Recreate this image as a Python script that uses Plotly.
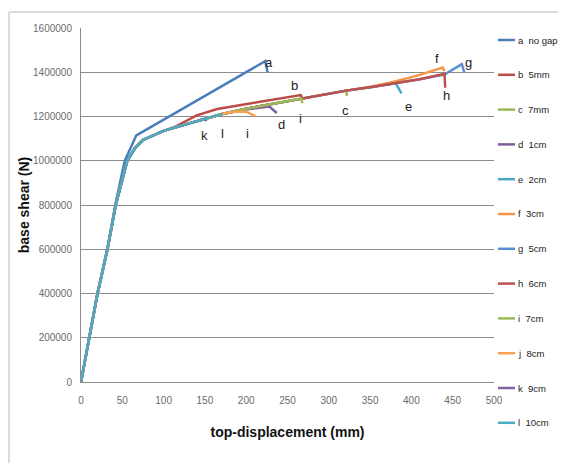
import plotly.graph_objects as go

# ---- data ----
series_names = ["a&nbsp; no gap", "b&nbsp; 5mm", "c&nbsp; 7mm", "d&nbsp; 1cm", "e&nbsp; 2cm", "f&nbsp; 3cm",
                "g&nbsp; 5cm", "h&nbsp; 6cm", "i&nbsp; 7cm", "j&nbsp; 8cm", "k&nbsp; 9cm", "l&nbsp; 10cm"]
series_colors = ["#4A7EBB", "#BE4B48", "#98B954", "#7D60A0", "#46AAC5", "#F79646",
                 "#5B8ED0", "#C0504D", "#9BBB59", "#F7A050", "#8064A2", "#4BACC6"]

a_x = [0, 10, 20, 32, 42, 53, 67, 223, 226]
a_y = [0, 200000, 400000, 600000, 810000, 1000000, 1115000, 1450000, 1400000]

b_x = [0, 10, 20, 32, 42, 56, 65, 75, 100, 115, 140, 165, 266, 268]
b_y = [0, 200000, 400000, 600000, 800000, 1000000, 1055000, 1094000, 1135000, 1155000, 1205000, 1234000, 1297000, 1283000]

c_x = [0, 10, 20, 32, 42, 56, 65, 75, 100, 130, 171, 200, 244, 267, 321, 322]
c_y = [0, 200000, 400000, 600000, 800000, 1000000, 1055000, 1094000, 1135000, 1168000, 1211000, 1235000, 1266000, 1281000, 1317000, 1293000]

d_x = [0, 10, 20, 32, 42, 56, 65, 75, 100, 130, 171, 200, 228, 237]
d_y = [0, 200000, 400000, 600000, 800000, 1000000, 1055000, 1094000, 1135000, 1168000, 1211000, 1232000, 1245000, 1216000]

e_x = [0, 10, 20, 32, 42, 56, 65, 75, 100, 130, 171, 200, 244, 267, 321, 350, 381, 388]
e_y = [0, 200000, 400000, 600000, 800000, 1000000, 1055000, 1094000, 1135000, 1168000, 1211000, 1235000, 1266000, 1281000, 1317000, 1332000, 1350000, 1305000]

f_x = [0, 10, 20, 32, 42, 56, 65, 75, 100, 130, 171, 200, 244, 267, 321, 350, 380, 410, 438, 440]
f_y = [0, 200000, 400000, 600000, 800000, 1000000, 1055000, 1094000, 1135000, 1168000, 1211000, 1235000, 1266000, 1281000, 1317000, 1334000, 1358000, 1388000, 1421000, 1405000]

g_x = [0, 10, 20, 32, 42, 56, 65, 75, 100, 130, 171, 200, 244, 267, 321, 350, 381, 410, 440, 461, 464]
g_y = [0, 200000, 400000, 600000, 800000, 1000000, 1055000, 1094000, 1135000, 1168000, 1211000, 1235000, 1266000, 1281000, 1317000, 1332000, 1350000, 1368000, 1390000, 1437000, 1401000]

h_x = [0, 10, 20, 32, 42, 56, 65, 75, 100, 130, 171, 200, 244, 267, 321, 350, 381, 410, 440, 441]
h_y = [0, 200000, 400000, 600000, 800000, 1000000, 1055000, 1094000, 1135000, 1168000, 1211000, 1235000, 1266000, 1281000, 1317000, 1332000, 1350000, 1368000, 1393000, 1330000]

i_x = [0, 10, 20, 32, 42, 56, 65, 75, 100, 130, 171, 200, 244, 267, 268]
i_y = [0, 200000, 400000, 600000, 800000, 1000000, 1055000, 1094000, 1135000, 1168000, 1211000, 1235000, 1266000, 1281000, 1260000]

j_x = [0, 10, 20, 32, 42, 56, 65, 75, 100, 130, 171, 185, 200, 211]
j_y = [0, 200000, 400000, 600000, 800000, 1000000, 1055000, 1094000, 1135000, 1168000, 1211000, 1222000, 1222000, 1202000]

k_x = [0, 10, 20, 32, 42, 56, 65, 75, 100, 130, 150, 152]
k_y = [0, 200000, 400000, 600000, 800000, 1000000, 1055000, 1094000, 1135000, 1168000, 1190000, 1180000]

l_x = [0, 10, 20, 32, 42, 56, 65, 75, 100, 130, 171]
l_y = [0, 200000, 400000, 600000, 800000, 1000000, 1055000, 1094000, 1135000, 1168000, 1211000]

series_x = [a_x, b_x, c_x, d_x, e_x, f_x, g_x, h_x, i_x, j_x, k_x, l_x]
series_y = [a_y, b_y, c_y, d_y, e_y, f_y, g_y, h_y, i_y, j_y, k_y, l_y]

# curve end labels (text, x, y)
label_text = ["a", "b", "c", "d", "e", "f", "g", "h", "i", "i", "k", "l"]
label_x = [228, 259, 320, 243, 396, 431, 469, 443, 266, 202, 150, 171]
label_y = [1446000, 1338000, 1229000, 1162000, 1243000, 1460000, 1442000, 1297000, 1193000, 1125000, 1116000, 1125000]

y_ticks = [0, 200000, 400000, 600000, 800000, 1000000, 1200000, 1400000, 1600000]
x_ticks = [0, 50, 100, 150, 200, 250, 300, 350, 400, 450, 500]

x_title = "top-displacement (mm)"
y_title = "base shear (N)"

# ---- figure (page has an 8px body offset) ----
OFF = 8
W, H = 566 - OFF, 463 - OFF
ML, MR, MT, MB = 81 - OFF, W - (494 - OFF), 28 - OFF, H - (382 - OFF)
PW, PH = W - ML - MR, H - MT - MB


def px_x(p):
    return (p - OFF - ML) / PW


def px_y(p):
    return (H - MB - (p - OFF)) / PH


LABEL_FONT = "Liberation Sans"

fig = go.Figure()
for name, col, xs, ys in zip(series_names, series_colors, series_x, series_y):
    fig.add_trace(go.Scatter(x=xs, y=ys, mode="lines", name=name,
                             line=dict(color=col, width=2.5),
                             showlegend=False))

for t, lx, ly in zip(label_text, label_x, label_y):
    fig.add_annotation(x=lx, y=ly, text=t, showarrow=False,
                       font=dict(family=LABEL_FONT, size=13, color="#222222"))

# manual legend (Excel style)
shapes = []
for idx, (name, col) in enumerate(zip(series_names, series_colors)):
    py = 40 + idx * 34.8
    shapes.append(dict(type="line", xref="paper", yref="paper",
                       x0=px_x(498), x1=px_x(515), y0=px_y(py), y1=px_y(py),
                       line=dict(color=col, width=2.5)))
    fig.add_annotation(xref="paper", yref="paper", x=px_x(516), y=px_y(py),
                       xanchor="left", yanchor="middle", text=name, showarrow=False,
                       font=dict(family=LABEL_FONT, size=9.5, color="#222222"))

# outer chart frame (top and left edges visible)
shapes.append(dict(type="line", xref="paper", yref="paper",
                   x0=px_x(9), x1=px_x(566), y0=px_y(12), y1=px_y(12),
                   line=dict(color="#cfcfcf", width=1.5)))
shapes.append(dict(type="line", xref="paper", yref="paper",
                   x0=px_x(9), x1=px_x(9), y0=px_y(12), y1=px_y(463),
                   line=dict(color="#cfcfcf", width=1.5)))

fig.update_layout(
    width=W, height=H,
    margin=dict(l=ML, r=MR, t=MT, b=MB, autoexpand=False),
    paper_bgcolor="white", plot_bgcolor="white",
    shapes=shapes,
    showlegend=False,
    xaxis=dict(range=[0, 500], tickvals=x_ticks, showgrid=False,
               showline=True, linecolor="#8c8c8c", linewidth=1,
               ticks="", zeroline=False, ticklabelstandoff=9,
               tickfont=dict(family="Liberation Sans", size=10, color="#6b6b6b"),
               title=dict(text="<b>" + x_title + "</b>", standoff=22,
                          font=dict(family="Liberation Sans", size=14, color="#111111"))),
    yaxis=dict(range=[0, 1600000], tickvals=y_ticks, tickformat="d",
               showgrid=True, gridcolor="#8c8c8c", gridwidth=1,
               showline=True, linecolor="#8c8c8c", linewidth=1,
               ticks="", zeroline=False, ticklabelstandoff=6,
               tickfont=dict(family="Liberation Sans", size=10, color="#6b6b6b"),
               title=dict(text="<b>" + y_title + "</b>", standoff=0,
                          font=dict(family="Liberation Sans", size=14, color="#111111"))),
)

fig.write_html("out.html")
